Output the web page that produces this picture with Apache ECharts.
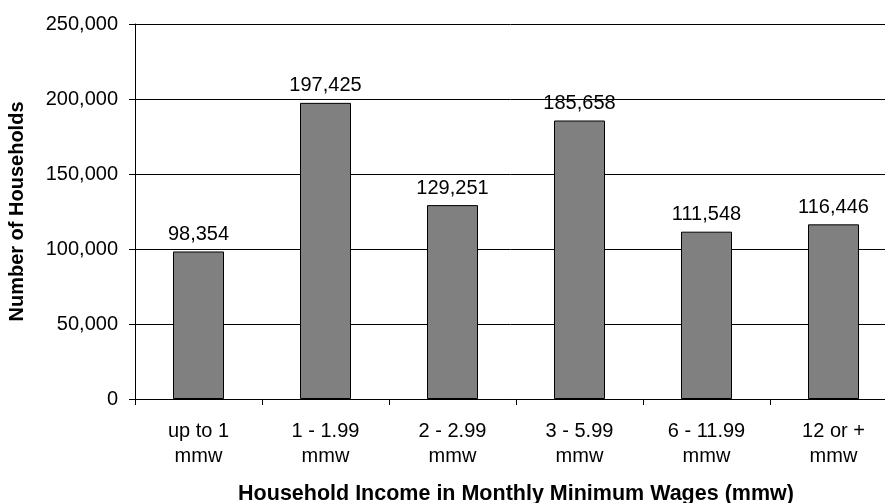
<!DOCTYPE html>
<html><head><meta charset="utf-8">
<script src="https://cdn.jsdelivr.net/npm/echarts@6/dist/echarts.min.js"></script>
<style>html,body{margin:0;padding:0;background:#fff}#c{width:885px;height:503px}</style>
</head><body><div id="c"></div>
<script>
const categories = ['up to 1\nmmw', '1 - 1.99\nmmw', '2 - 2.99\nmmw', '3 - 5.99\nmmw', '6 - 11.99\nmmw', '12 or +\nmmw'];
const households = [98354, 197425, 129251, 185658, 111548, 116446];
const yTicks = { min: 0, max: 250000, interval: 50000 };
const xTitle = 'Household Income in Monthly Minimum Wages (mmw)';
const yTitle = 'Number of Households';

const font = 'Liberation Sans, Arial, sans-serif';
const fmt = v => v.toLocaleString('en-US');
const chart = echarts.init(document.getElementById('c'), null, { renderer: 'canvas' });
chart.setOption({
  animation: false,
  grid: { left: 135, top: 24, right: -12, bottom: 104, containLabel: false, outerBoundsMode: 'none' },
  xAxis: {
    type: 'category', data: categories,
    name: xTitle, nameLocation: 'middle', nameGap: 84,
    nameTextStyle: { fontFamily: font, fontSize: 21.5, fontWeight: 'bold', color: '#000' },
    axisLine: { lineStyle: { color: '#000', width: 1 } },
    axisTick: { show: true, length: 6, alignWithLabel: false, lineStyle: { color: '#000' } },
    axisLabel: { fontFamily: font, fontSize: 20, color: '#000', lineHeight: 25, margin: 20, interval: 0 }
  },
  yAxis: {
    type: 'value', min: yTicks.min, max: yTicks.max, interval: yTicks.interval,
    name: yTitle, nameLocation: 'middle', nameGap: 108, nameRotate: 90,
    nameTextStyle: { fontFamily: font, fontSize: 20, fontWeight: 'bold', color: '#000' },
    axisLine: { show: true, lineStyle: { color: '#000', width: 1 } },
    axisTick: { show: true, length: 6, lineStyle: { color: '#000' } },
    axisLabel: { fontFamily: font, fontSize: 20, color: '#000', margin: 17, formatter: fmt },
    splitLine: { show: true, lineStyle: { color: '#000', width: 1 } }
  },
  series: [{
    type: 'bar', data: households, barWidth: 51,
    itemStyle: { color: '#808080', borderColor: '#000', borderWidth: 1 },
    label: { show: true, position: 'top', distance: 7, fontFamily: font, fontSize: 20, color: '#000',
      formatter: p => fmt(p.value) }
  }]
});
</script></body></html>
